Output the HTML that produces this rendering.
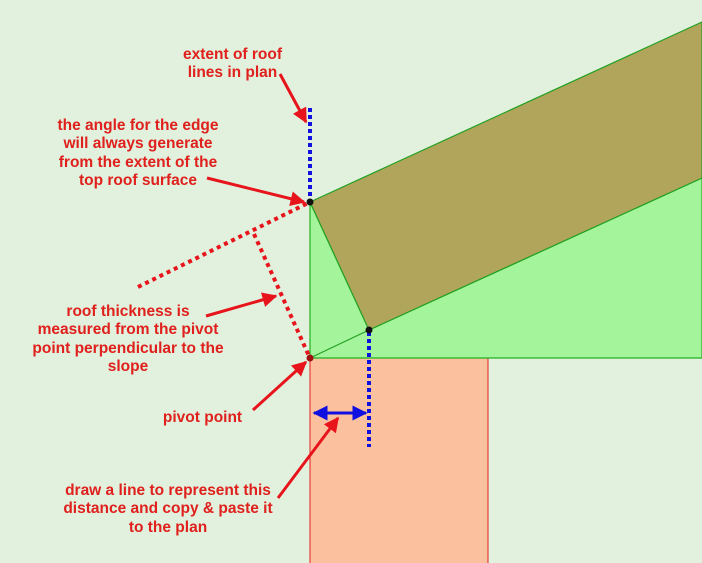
<!DOCTYPE html>
<html><head><style>
body{margin:0;width:702px;height:563px;overflow:hidden;background:#e1f1de;font-family:"Liberation Sans",sans-serif}
.t{position:absolute;color:#e0201c;font-weight:bold;font-size:15.5px;line-height:18.3px;text-align:center;white-space:nowrap}
</style></head><body>
<svg width="702" height="563" style="position:absolute;left:0;top:0">
<defs>
<marker id="ar" viewBox="0 0 10 10" refX="9" refY="5" markerWidth="5" markerHeight="5" orient="auto"><path d="M0,0L10,5L0,10z" fill="#e8141c"/></marker>
<marker id="bb" viewBox="0 0 10 10" refX="9" refY="5" markerWidth="5" markerHeight="5" orient="auto-start-reverse"><path d="M0,0L10,5L0,10z" fill="#1010e0"/></marker>
</defs>
<rect x="310" y="358" width="178" height="210" fill="#fbc09e" stroke="#e82020" stroke-width="1"/>
<polygon points="310,202 369,330 702,178 702,358 310,358" fill="#a4f49c" stroke="#22b022" stroke-width="1.2"/>
<polygon points="310,202 702,22 702,178 369,330" fill="#b1a55c" stroke="#22a022" stroke-width="1.2"/>
<line x1="310" y1="358" x2="369" y2="330" stroke="#22a022" stroke-width="1.2"/>
<line x1="310" y1="108" x2="310" y2="200" stroke="#1010e0" stroke-width="4" stroke-dasharray="4,3"/>
<line x1="369" y1="332" x2="369" y2="447" stroke="#1010e0" stroke-width="4" stroke-dasharray="4,3"/>
<line x1="138" y1="287" x2="308" y2="203" stroke="#e8141c" stroke-width="4" stroke-dasharray="4,4"/>
<line x1="254" y1="234" x2="309" y2="356" stroke="#e8141c" stroke-width="4" stroke-dasharray="4,4"/>
<line x1="314" y1="413" x2="366" y2="413" stroke="#1010e0" stroke-width="3" marker-start="url(#bb)" marker-end="url(#bb)"/>
<circle cx="310" cy="202" r="3.5" fill="#111"/>
<circle cx="369" cy="330" r="3.5" fill="#111"/>
<circle cx="310" cy="358" r="3.5" fill="#a01010"/>
<g stroke="#e8141c" stroke-width="3" fill="none" marker-end="url(#ar)">
<line x1="280" y1="74" x2="306" y2="122"/>
<line x1="207" y1="178" x2="304" y2="202"/>
<line x1="206" y1="316" x2="276" y2="296"/>
<line x1="253" y1="410" x2="306" y2="362"/>
<line x1="278" y1="498" x2="338" y2="418"/>
</g>
</svg>
<div class="t" style="left:170px;top:46px;width:125px">extent of roof<br>lines in plan</div>
<div class="t" style="left:38px;top:117px;width:200px">the angle for the edge<br>will always generate<br>from the extent of the<br>top roof surface</div>
<div class="t" style="left:13px;top:303px;width:230px">roof thickness is<br>measured from the pivot<br>point perpendicular to the<br>slope</div>
<div class="t" style="left:150px;top:409px;width:105px">pivot point</div>
<div class="t" style="left:48px;top:482px;width:240px">draw a line to represent this<br>distance and copy &amp; paste it<br>to the plan</div>
</body></html>
